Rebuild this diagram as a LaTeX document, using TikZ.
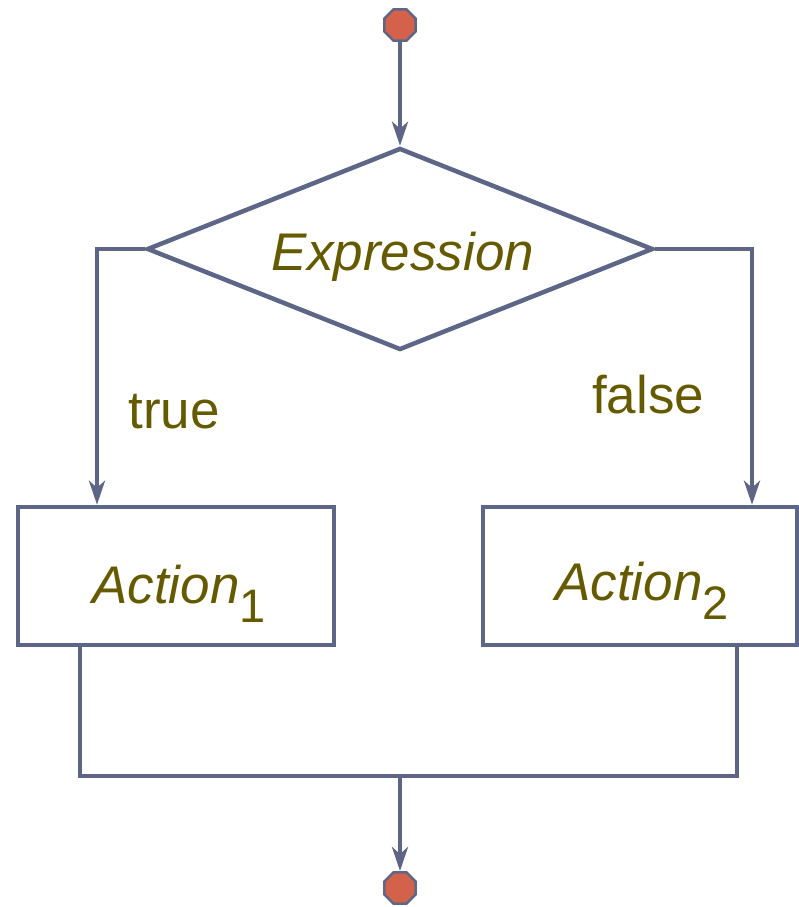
\documentclass[tikz,border=0pt]{standalone}
\usepackage{fontspec}
\setmainfont{Liberation Sans}
\usetikzlibrary{shapes.geometric,arrows.meta}
\definecolor{linec}{HTML}{5E6687}
\definecolor{textc}{HTML}{665A00}
\definecolor{dotc}{HTML}{D4614A}
\newcommand{\sbs}[1]{\raisebox{-19pt}{\fontsize{47}{50}\selectfont\upshape #1}}
\begin{document}
\begin{tikzpicture}[x=1pt,y=-1pt,
  every node/.style={text=textc},
  flow/.style={draw=linec,line width=4.5pt},
  arr/.style={flow,-{Stealth[length=24pt,width=16pt,inset=7pt]}},
  dot/.style={regular polygon,regular polygon sides=8,minimum size=34pt,inner sep=0pt,fill=dotc,draw=linec,line width=2.5pt},
  actbox/.style={rectangle,draw=linec,line width=4.5pt,inner sep=0pt},
  lbl/.style={font=\fontsize{53}{56}\selectfont,inner sep=0pt},
  ilbl/.style={font=\fontsize{53}{56}\selectfont\itshape,inner sep=0pt}
]
\useasboundingbox (0,0) rectangle (799,907);
\node[dot] (start) at (400,25) {};
\node[diamond,draw=linec,line width=4.5pt,minimum width=506pt,minimum height=202pt,inner sep=0pt,aspect=2.5] (cond) at (400,249) {};
\node[ilbl,anchor=base] (expr) at (403,270) {Expression};
\node[actbox,minimum width=316pt,minimum height=138pt] (a1) at (176,576) {};
\node[actbox,minimum width=314pt,minimum height=138pt] (a2) at (640,576) {};
\node[ilbl,anchor=base west] (t1) at (92,603) {Action\sbs{1}};
\node[ilbl,anchor=base west] (t2) at (555,600) {Action\sbs{2}};
\node[lbl,anchor=base] (true) at (174,428) {true};
\node[lbl,anchor=base] (false) at (648,413) {false};
\node[dot] (stop) at (400,888) {};
\coordinate (lc) at (97,249);
\coordinate (rc) at (752,249);
\coordinate (b1) at (80,776);
\coordinate (b2) at (737,776);
\coordinate (mid) at (400,776);
\draw[arr] (start.south) -- (cond.north);
\draw[arr] (cond.west) -- (lc) -- (lc |- a1.north);
\draw[arr] (cond.east) -- (rc) -- (rc |- a2.north);
\draw[flow] (b1 |- a1.south) -- (b1) -- (b2) -- (b2 |- a2.south);
\draw[arr] (mid) -- (stop.north);
\end{tikzpicture}
\end{document}
